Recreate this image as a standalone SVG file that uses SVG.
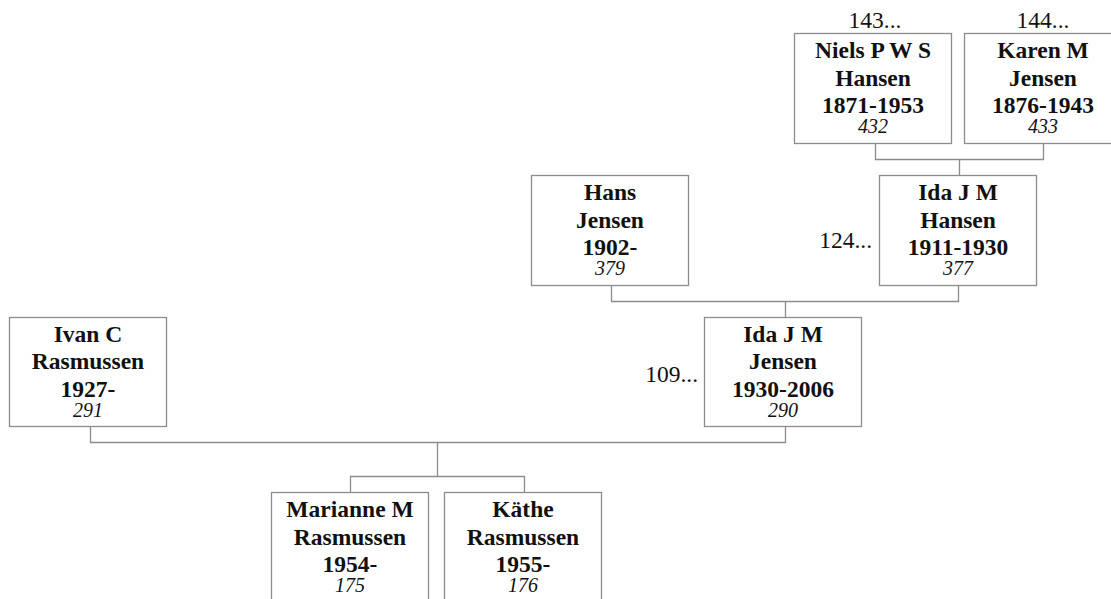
<svg xmlns="http://www.w3.org/2000/svg" width="1111" height="599" viewBox="0 0 1111 599">
<style>
.box{fill:#fff;stroke:#8c8c8c;stroke-width:1.3}
.n{font-family:"Liberation Serif","Times New Roman",serif;font-weight:bold;font-size:23.5px;text-anchor:middle;fill:#111}
.i{font-family:"Liberation Serif","Times New Roman",serif;font-style:italic;font-size:20px;text-anchor:middle;fill:#111}
.r{font-family:"Liberation Serif","Times New Roman",serif;font-size:23.5px;fill:#111}
.c{fill:none;stroke:#8c8c8c;stroke-width:1.3}
</style>
<rect width="1111" height="599" fill="#fff"/>
<g id="connectors">
<path class="c" d="M875.5 143.5V159.5H1043.5V143.5M959.5 159.5V175.5"/>
<path class="c" d="M611.5 285.5V301.5H958.5V285.5M785.5 301.5V317.5"/>
<path class="c" d="M90.5 427V442.5H785.5V427M437.5 442.5V476.5M350.5 492.5V476.5H524.5V492.5"/>
</g>
<g id="niels">
<rect class="box" x="794.5" y="33.5" width="157" height="110"/>
<text class="r" x="875" y="28" text-anchor="middle">143...</text>
<text class="n" x="873" y="58">Niels P W S</text>
<text class="n" x="873" y="85.5">Hansen</text>
<text class="n" x="873" y="113">1871-1953</text>
<text class="i" x="873" y="133">432</text>
</g>
<g id="karen">
<rect class="box" x="964.5" y="33.5" width="158" height="110"/>
<text class="r" x="1043" y="28" text-anchor="middle">144...</text>
<text class="n" x="1043" y="58">Karen M</text>
<text class="n" x="1043" y="85.5">Jensen</text>
<text class="n" x="1043" y="113">1876-1943</text>
<text class="i" x="1043" y="133">433</text>
</g>
<g id="hans">
<rect class="box" x="531.5" y="175.5" width="157" height="110"/>
<text class="n" x="610" y="200">Hans</text>
<text class="n" x="610" y="227.5">Jensen</text>
<text class="n" x="610" y="255">1902-</text>
<text class="i" x="610" y="275">379</text>
</g>
<g id="ida-hansen">
<rect class="box" x="879.5" y="175.5" width="157" height="110"/>
<text class="r" x="872" y="248" text-anchor="end">124...</text>
<text class="n" x="958" y="200">Ida J M</text>
<text class="n" x="958" y="227.5">Hansen</text>
<text class="n" x="958" y="255">1911-1930</text>
<text class="i" x="958" y="275">377</text>
</g>
<g id="ivan">
<rect class="box" x="9.5" y="317.5" width="157" height="109"/>
<text class="n" x="88" y="341.5">Ivan C</text>
<text class="n" x="88" y="369">Rasmussen</text>
<text class="n" x="88" y="396.5">1927-</text>
<text class="i" x="88" y="416.5">291</text>
</g>
<g id="ida-jensen">
<rect class="box" x="704.5" y="317.5" width="157" height="109"/>
<text class="r" x="698" y="382" text-anchor="end">109...</text>
<text class="n" x="783" y="341.5">Ida J M</text>
<text class="n" x="783" y="369">Jensen</text>
<text class="n" x="783" y="396.5">1930-2006</text>
<text class="i" x="783" y="416.5">290</text>
</g>
<g id="marianne">
<rect class="box" x="271.5" y="492.5" width="157" height="110"/>
<text class="n" x="350" y="517">Marianne M</text>
<text class="n" x="350" y="544.5">Rasmussen</text>
<text class="n" x="350" y="572">1954-</text>
<text class="i" x="350" y="592">175</text>
</g>
<g id="kathe">
<rect class="box" x="444.5" y="492.5" width="157" height="110"/>
<text class="n" x="523" y="517">Käthe</text>
<text class="n" x="523" y="544.5">Rasmussen</text>
<text class="n" x="523" y="572">1955-</text>
<text class="i" x="523" y="592">176</text>
</g>
</svg>
